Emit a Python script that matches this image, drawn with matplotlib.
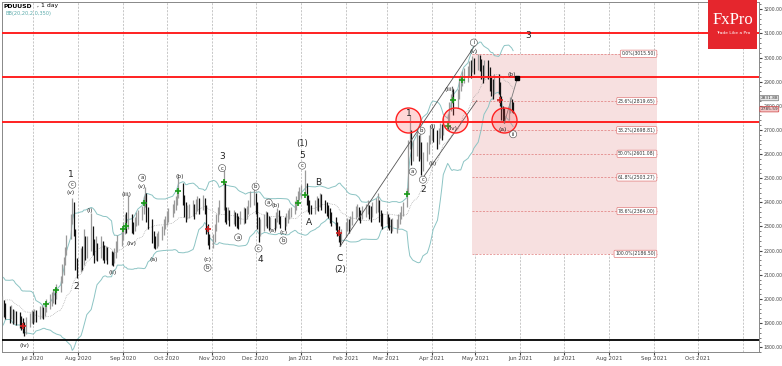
import numpy as np
import pandas as pd
import matplotlib
matplotlib.use("Agg")
import matplotlib.pyplot as plt
import matplotlib.dates as mdates
from matplotlib.patches import Rectangle

# PDUUSD daily bars, first visible bar 2020-06-10
first_day = "2020-06-10"

# closes before the first visible bar, only used to seed BB(20)
warmup_close = [1900, 1880, 1930, 1970, 2010, 2040, 2060, 2080, 2050, 2020,
                1990, 1960, 1940, 1960, 1990, 2020, 2030, 2000, 1980]

close = [
    1975, 1960, 1950,
    1935, 1945, 1925, 1930, 1920,  1910, 1895, 1880, 1870, 1900,
    1915, 1930, 1920, 1935, 1930,  1945, 1950, 1940, 1960, 1980,
    1990, 2000, 2015, 2010, 2035,  2070, 2120, 2150, 2190, 2240,
    2320, 2390, 2280, 2150, 2110,  2180, 2150, 2240, 2190, 2230,
    2280, 2220, 2190, 2210, 2190,  2220, 2200, 2180, 2195, 2175,
    2170, 2160, 2185, 2210, 2240,  2260, 2290, 2320, 2300, 2330,
    2300, 2280, 2310, 2330, 2340,  2360, 2400, 2430, 2350, 2320,
    2260, 2230, 2215, 2240, 2250,  2280, 2300, 2320, 2340, 2350,
    2370, 2390, 2400, 2430, 2470,  2420, 2380, 2350, 2360, 2370,
    2380, 2360, 2390, 2400, 2385,  2410, 2380, 2290, 2250, 2220,
    2240, 2290, 2330, 2360, 2390,  2470, 2350, 2340, 2360, 2330,
    2340, 2330, 2320, 2310, 2340,  2350, 2345, 2360, 2390, 2420,
    2430, 2380, 2320, 2290, 2300,  2320, 2340, 2330, 2310, 2320,
    2310, 2330, 2350, 2340, 2320,  2310, 2330, 2345, 2355, 2360,
    2380, 2400, 2420, 2440, 2450,  2470, 2420, 2390, 2370, 2360,
    2380, 2400, 2390, 2410, 2400,  2380, 2370, 2360, 2340, 2330,
    2310, 2290, 2260, 2240, 2270,  2290, 2310, 2300, 2320, 2340,
    2360, 2370, 2350, 2340, 2360,  2370, 2380, 2360, 2350, 2370,
    2390, 2400, 2350, 2330, 2320,  2340, 2320, 2310, 2300, 2310,
    2310, 2330, 2340, 2360, 2380,  2440, 2640, 2680, 2600, 2620,
    2650, 2600, 2640, 2560, 2580,  2620, 2650, 2690, 2700, 2680,
    2650, 2680, 2700, 2690, 2720,  2740, 2790, 2820, 2860, 2800,
    2850, 2890, 2900, 2920, 2930,  2940, 2960, 2950, 2980, 2970,
    2990, 2980, 2950, 2930, 2960,  2940, 2900, 2880, 2860, 2900,
    2880, 2830, 2780, 2760, 2750,  2770, 2810, 2800, 2785,
]
high = [
    2010, 1995, 1985,
    1970, 1975, 1960, 1955, 1950,  1945, 1930, 1920, 1905, 1925,
    1940, 1955, 1950, 1960, 1955,  1970, 1975, 1965, 1980, 2000,
    2020, 2030, 2040, 2045, 2060,  2095, 2145, 2175, 2215, 2265,
    2350, 2420, 2400, 2290, 2170,  2210, 2220, 2290, 2260, 2260,
    2357, 2300, 2250, 2260, 2230,  2260, 2240, 2225, 2220, 2215,
    2200, 2195, 2210, 2240, 2265,  2290, 2320, 2350, 2360, 2432,
    2350, 2320, 2340, 2360, 2370,  2385, 2425, 2465, 2440, 2380,
    2330, 2280, 2260, 2275, 2280,  2300, 2330, 2345, 2365, 2375,
    2395, 2410, 2425, 2455, 2507,  2480, 2430, 2400, 2390, 2395,
    2410, 2395, 2415, 2425, 2420,  2430, 2420, 2390, 2310, 2270,
    2270, 2310, 2350, 2380, 2410,  2535, 2480, 2380, 2380, 2370,
    2370, 2360, 2355, 2345, 2365,  2380, 2375, 2385, 2410, 2445,
    2465, 2440, 2400, 2340, 2330,  2350, 2365, 2360, 2345, 2340,
    2335, 2360, 2375, 2370, 2345,  2340, 2355, 2370, 2375, 2380,
    2405, 2425, 2445, 2465, 2470,  2535, 2480, 2430, 2410, 2390,
    2410, 2425, 2420, 2440, 2435,  2410, 2400, 2390, 2375, 2360,
    2340, 2320, 2300, 2275, 2290,  2320, 2335, 2330, 2345, 2365,
    2385, 2395, 2380, 2370, 2385,  2395, 2410, 2390, 2385, 2400,
    2420, 2440, 2410, 2370, 2355,  2365, 2350, 2340, 2330, 2335,
    2330, 2350, 2360, 2385, 2400,  2460, 2660, 2763, 2700, 2660,
    2700, 2680, 2690, 2650, 2610,  2650, 2680, 2720, 2725, 2710,
    2700, 2710, 2730, 2725, 2750,  2765, 2815, 2850, 2880, 2870,
    2870, 2915, 2925, 2945, 2955,  2965, 2985, 2990, 3005, 3000,
    3015.5, 3010, 2995, 2970, 2990,  2990, 2960, 2920, 2910, 2930,
    2930, 2900, 2840, 2800, 2790,  2800, 2837, 2830, 2815,
]
low = [
    1930, 1925, 1915,
    1900, 1915, 1895, 1900, 1890,  1880, 1870, 1860, 1845, 1855,
    1885, 1900, 1895, 1905, 1905,  1915, 1920, 1915, 1930, 1945,
    1960, 1970, 1985, 1980, 2000,  2030, 2065, 2100, 2140, 2180,
    2250, 2310, 2260, 2120, 2085,  2110, 2120, 2140, 2160, 2170,
    2200, 2180, 2150, 2160, 2155,  2170, 2160, 2150, 2160, 2145,
    2140, 2135, 2150, 2170, 2195,  2220, 2245, 2270, 2275, 2290,
    2275, 2267, 2280, 2300, 2305,  2325, 2350, 2380, 2320, 2290,
    2230, 2210, 2205, 2210, 2220,  2245, 2265, 2290, 2305, 2320,
    2340, 2355, 2370, 2390, 2420,  2390, 2340, 2320, 2330, 2335,
    2345, 2330, 2350, 2365, 2350,  2370, 2350, 2270, 2225, 2205,
    2210, 2235, 2280, 2320, 2350,  2370, 2320, 2310, 2325, 2300,
    2310, 2300, 2295, 2290, 2310,  2310, 2315, 2330, 2350, 2380,
    2390, 2350, 2290, 2234, 2260,  2280, 2300, 2295, 2285, 2290,
    2285, 2295, 2320, 2310, 2295,  2285, 2300, 2315, 2330, 2340,
    2350, 2370, 2390, 2410, 2420,  2430, 2390, 2360, 2350, 2350,
    2350, 2370, 2365, 2380, 2370,  2355, 2345, 2335, 2315, 2300,
    2285, 2260, 2235, 2220, 2235,  2255, 2280, 2275, 2290, 2305,
    2330, 2340, 2325, 2315, 2330,  2340, 2350, 2330, 2320, 2340,
    2355, 2360, 2320, 2300, 2290,  2310, 2295, 2285, 2275, 2280,
    2275, 2295, 2310, 2330, 2345,  2380, 2440, 2620, 2556, 2570,
    2590, 2570, 2580, 2515, 2530,  2570, 2600, 2640, 2660, 2650,
    2620, 2640, 2665, 2660, 2680,  2700, 2730, 2780, 2810, 2760,
    2790, 2830, 2860, 2880, 2895,  2900, 2920, 2915, 2940, 2930,
    2950, 2945, 2910, 2895, 2910,  2910, 2860, 2840, 2830, 2850,
    2850, 2800, 2740, 2735, 2730,  2740, 2770, 2775, 2770,
]

# horizontal levels
red_levels = [3100, 2918, 2734]
black_level = 1829

# fibonacci retracement of the Feb-May rally
fib_pct = ["0.0", "23.6", "38.2", "50.0", "61.8", "78.6", "100.0"]
fib_price = [3015.50, 2819.65, 2698.81, 2601.08, 2503.27, 2364.00, 2186.50]
fib_start, fib_end = "2021-04-29", "2021-09-03"

# wave labels: date, price, text, kind (n plain, c circled, p parentheses)
waves = [
    ("2020-07-27", 2515, "1", "n"), ("2020-07-28", 2473, "c", "c"),
    ("2020-07-27", 2440, "(v)", "p"), ("2020-07-31", 2052, "2", "n"),
    ("2020-08-09", 2366, "(i)", "p"), ("2020-08-25", 2110, "(ii)", "p"),
    ("2020-09-03", 2432, "(iii)", "p"), ("2020-09-07", 2228, "(iv)", "p"),
    ("2020-09-14", 2502, "a", "c"), ("2020-09-14", 2465, "(v)", "p"),
    ("2020-09-22", 2164, "(a)", "p"), ("2020-10-10", 2507, "(b)", "p"),
    ("2020-10-29", 2164, "(c)", "p"), ("2020-10-29", 2129, "b", "c"),
    ("2020-11-08", 2588, "3", "n"), ("2020-11-08", 2542, "c", "c"),
    ("2020-11-19", 2255, "a", "c"), ("2020-12-01", 2465, "b", "c"),
    ("2020-12-03", 2209, "c", "c"), ("2020-12-04", 2164, "4", "n"),
    ("2020-12-10", 2399, "a", "c"), ("2020-12-15", 2387, "(b)", "p"),
    ("2020-12-13", 2283, "(a)", "p"), ("2020-12-20", 2277, "(c)", "p"),
    ("2020-12-20", 2242, "b", "c"), ("2020-06-25", 1806, "(iv)", "p"),
    ("2021-01-02", 2645, "(1)", "p1"), ("2021-01-02", 2595, "5", "n"),
    ("2021-01-02", 2552, "c", "c"), ("2021-01-07", 2317, "A", "n"),
    ("2021-01-13", 2482, "B", "n"), ("2021-01-28", 2166, "C", "n"),
    ("2021-01-28", 2122, "(2)", "p1"), ("2021-03-16", 2767, "1", "n"),
    ("2021-03-25", 2697, "b", "c"), ("2021-04-02", 2713, "(i)", "p"),
    ("2021-03-19", 2527, "a", "c"), ("2021-03-26", 2494, "c", "c"),
    ("2021-03-26", 2455, "2", "n"), ("2021-04-02", 2560, "(ii)", "p"),
    ("2021-04-15", 2705, "(iv)", "p"), ("2021-04-13", 2866, "(iii)", "p"),
    ("2021-04-30", 3062, "i", "c"), ("2021-04-30", 3027, "(v)", "p"),
    ("2021-06-06", 3093, "3", "n"), ("2021-05-26", 2928, "(b)", "p"),
    ("2021-05-20", 2700, "(a)", "p"), ("2021-05-27", 2682, "ii", "c"),
]

# indicator crosses
green_cross = [("2020-07-10", 1978), ("2020-07-17", 2035), ("2020-09-01", 2288),
               ("2020-09-03", 2304), ("2020-09-15", 2399), ("2020-10-09", 2449),
               ("2020-11-09", 2486), ("2020-12-30", 2399), ("2021-01-04", 2432),
               ("2021-03-15", 2436), ("2021-04-12", 2717), ("2021-04-16", 2825),
               ("2021-04-22", 2907)]
red_cross = [("2020-06-24", 1887), ("2020-10-29", 2288), ("2021-01-27", 2275),
             ("2021-05-18", 2825)]

# highlighted zones
circles = [("2021-03-16", 2742), ("2021-04-17", 2742), ("2021-05-21", 2742)]

# trend lines
channel_a = [("2021-01-28", 2217), ("2021-05-01", 3052)]
channel_b = [("2021-03-26", 2502), ("2021-05-02", 2821)]
proj_b = [("2021-05-21", 2730), ("2021-05-30", 2916)]

price_tags = [(2831.88, "#e8e8e8", "#777777"), (2785.59, "#f3c7c7", "#d04040")]

months = pd.date_range("2020-07-01", "2021-10-01", freq="MS")

# ---------------------------------------------------------------
days = pd.bdate_range(first_day, periods=len(close))
xd = mdates.date2num(days)
n = len(close)

s = pd.Series(warmup_close + close, dtype=float)
mid = s.rolling(20).mean().values[-n:]
sd = s.rolling(20).std(ddof=0).values[-n:]
upper = mid + 2 * sd
lower = mid - 2 * sd

def dn(d):
    return mdates.date2num(pd.Timestamp(d))

fig = plt.figure(figsize=(7.82, 3.66), dpi=100)
ax = fig.add_axes([2 / 782, 14 / 366, 757 / 782, 350 / 366])

t0 = pd.Timestamp("2020-07-01")
ax.set_xlim(dn(t0 - pd.Timedelta(days=21.3)), dn(t0 + pd.Timedelta(days=499)))
ax.set_ylim(1783.5, 3230)

# month grid
for m in list(months) + [pd.Timestamp("2021-11-01")]:
    ax.axvline(dn(m), color="#b0b0b0", lw=0.5, ls=(0, (3, 2)), zorder=0)

# fib box
fx0, fx1 = dn(fib_start), dn(fib_end)
ax.add_patch(Rectangle((fx0, fib_price[-1]), fx1 - fx0, fib_price[0] - fib_price[-1],
                       facecolor="#f7e0e0", edgecolor="none", zorder=1))
for pct, pr in zip(fib_pct, fib_price):
    ax.plot([fx0, fx1], [pr, pr], color="#e07a7a", lw=0.5, ls=(0, (3, 2)), zorder=2)
    ax.text(fx1 - 1, pr, "%s%%(%.2f)" % (pct, pr), fontsize=3.3, color="#333333",
            ha="right", va="center", zorder=6,
            bbox=dict(boxstyle="round,pad=0.25", fc="white", ec="#e07a7a", lw=0.5))

# bollinger bands
ax.plot(xd, upper, color="#8cc4c4", lw=0.7, zorder=2)
ax.plot(xd, lower, color="#8cc4c4", lw=0.7, zorder=2)
ax.plot(xd, mid, color="#9a9a9a", lw=0.5, ls=(0, (1, 1.5)), zorder=2)

# bars
prev = np.r_[close[0], close[:-1]]
cols = np.where(np.array(close) < prev, "#111111", "#9a9a9a")
ax.vlines(xd, low, high, colors=cols, lw=0.9, zorder=3)

# levels
for lv in red_levels:
    ax.axhline(lv, color="#ff2020", lw=1.4, zorder=4)
ax.axhline(black_level, color="black", lw=1.3, zorder=4)

# trend lines
for ln in (channel_a, channel_b):
    ax.plot([dn(ln[0][0]), dn(ln[1][0])], [ln[0][1], ln[1][1]],
            color="#555555", lw=0.6, zorder=4)
ax.plot([dn(proj_b[0][0]), dn(proj_b[1][0])], [proj_b[0][1], proj_b[1][1]],
        color="#777777", lw=0.6, zorder=4)
ax.plot(dn(proj_b[1][0]), proj_b[1][1], marker="s", ms=2.2, color="black", zorder=5)

# crosses
ax.plot([dn(d) for d, _ in green_cross], [p for _, p in green_cross], "+",
        color="#1a9a1a", ms=4, mew=1.2, zorder=5)
ax.plot([dn(d) for d, _ in red_cross], [p for _, p in red_cross], "+",
        color="#d02020", ms=4, mew=1.2, zorder=5)

# red circles
ax.plot([dn(d) for d, _ in circles], [p for _, p in circles], "o", ms=18,
        mfc=(1, 0.3, 0.3, 0.22), mec="#ff2020", mew=1.0, zorder=5)

# wave labels
for d, p, txt, kind in waves:
    if kind == "n":
        ax.text(dn(d), p, txt, fontsize=6.5, ha="center", va="center",
                color="#222222", zorder=7)
    elif kind == "c":
        ax.text(dn(d), p, txt, fontsize=3.8, ha="center", va="center",
                color="#222222", zorder=7,
                bbox=dict(boxstyle="circle,pad=0.2", fc="white", ec="#444444", lw=0.4))
    elif kind == "p1":
        ax.text(dn(d), p, txt, fontsize=6, ha="center", va="center",
                color="#222222", zorder=7)
    else:
        ax.text(dn(d), p, txt, fontsize=4.3, ha="center", va="center",
                color="#222222", zorder=7)

# axes styling
ax.set_xticks([dn(m) for m in months])
ax.set_xticklabels([m.strftime("%b %Y") for m in months])
ax.yaxis.tick_right()
ax.set_yticks(np.arange(1800, 3201, 100))
ax.set_yticklabels(["%.2f" % v for v in np.arange(1800, 3201, 100)])
ax.set_yticks(np.arange(1780, 3231, 20), minor=True)
ax.tick_params(axis="y", which="major", labelsize=3.3, length=2.5, pad=0.8,
               colors="#444444")
ax.tick_params(axis="y", which="minor", length=1.2, color="#666666")
ax.tick_params(axis="x", labelsize=4.0, length=2, pad=0.8, colors="#444444")
for sp in ax.spines.values():
    sp.set_color("#888888")
    sp.set_linewidth(0.7)

tr = ax.get_yaxis_transform()
for pr, fc, ec in price_tags:
    ax.text(1.002, pr, "%.2f" % pr, transform=tr, fontsize=3.1, color="#333333",
            ha="left", va="center", zorder=8, clip_on=False,
            bbox=dict(boxstyle="round,pad=0.15", fc=fc, ec=ec, lw=0.5))

# header text
fig.text(4 / 782, 1 - 6 / 366, "PDUUSD", fontsize=4.4, weight="bold", va="center")
fig.text(37 / 782, 1 - 6 / 366, ", 1 day", fontsize=4.4, va="center")
fig.text(5 / 782, 1 - 13 / 366, "BB(20,20,2.0,350)", fontsize=3.6,
         color="#5aaaaa", va="center")

# logo
fig.patches.append(Rectangle((708 / 782, 1 - 49 / 366), 49 / 782, 49 / 366,
                             transform=fig.transFigure, facecolor="#e5262d",
                             edgecolor="none", zorder=10))
fig.text(733 / 782, 1 - 20 / 366, "FxPro", fontsize=12, color="white",
         family="Liberation Serif", ha="center", va="center", zorder=11)
fig.text(733 / 782, 1 - 33 / 366, "Trade Like a Pro", fontsize=3.2, color="white",
         ha="center", va="center", zorder=11)

fig.savefig("out.png", dpi=100)
